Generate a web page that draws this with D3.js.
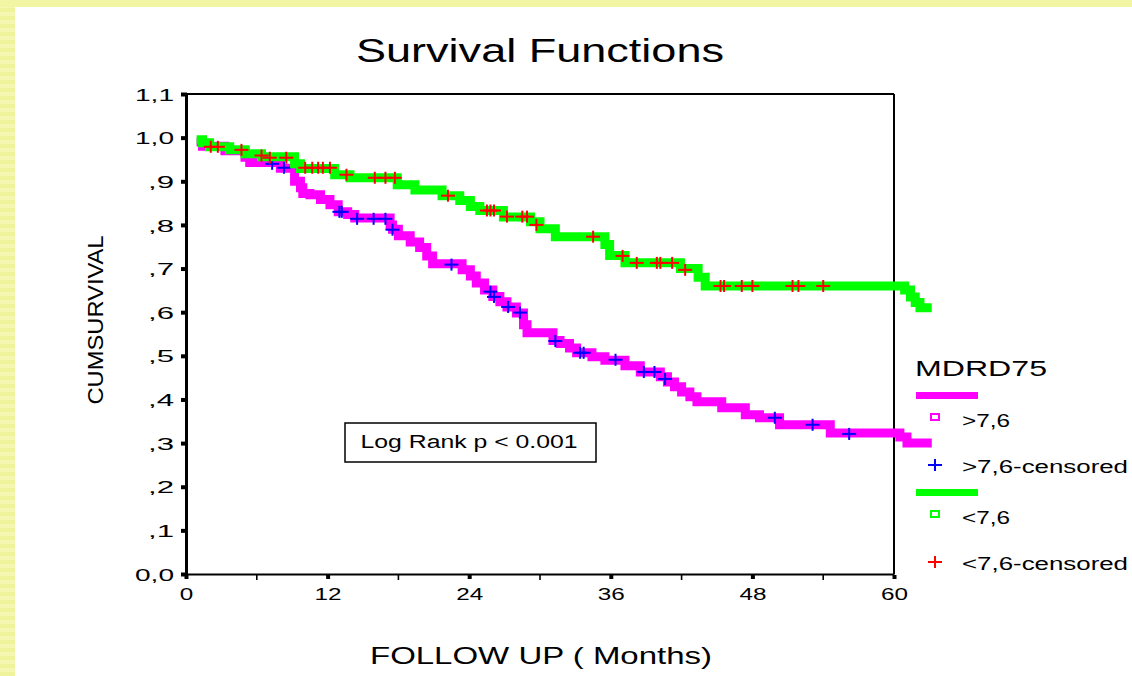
<!DOCTYPE html>
<html><head><meta charset="utf-8">
<script src="https://cdn.jsdelivr.net/npm/d3@7"></script>
<style>body{margin:0;background:#fff}svg{display:block}text{font-family:"Liberation Sans",Arial,sans-serif;fill:#000}</style>
</head><body>
<script>
// ---- data ----
const title = "Survival Functions";
const xLabel = "FOLLOW UP ( Months)";
const yLabel = "CUMSURVIVAL";
const legendTitle = "MDRD75";
const groupNames = [">7,6", "<7,6"];
const xTicks = [0, 12, 24, 36, 48, 60];
const xMinorTicks = [6, 18, 30, 42, 54];
const yTicks = [0, 0.1, 0.2, 0.3, 0.4, 0.5, 0.6, 0.7, 0.8, 0.9, 1.0, 1.1];
const yTickLabels = ["0,0", ",1", ",2", ",3", ",4", ",5", ",6", ",7", ",8", ",9", "1,0", "1,1"];
const annotation = "Log Rank p < 0.001";

const magentaTimes = [0.9, 1.4, 3.3, 5.0, 5.4, 8.0, 9.2, 9.7, 9.9, 10.5, 11.4, 12.2, 12.9, 13.7, 14.3, 17.3, 17.5, 18.0, 19.0, 19.8, 20.4, 20.9, 23.4, 24.1, 24.6, 25.3, 26.0, 26.6, 27.2, 28.0, 28.6, 28.9, 31.1, 31.7, 32.5, 33.1, 34.4, 35.5, 37.2, 38.5, 40.2, 40.8, 41.4, 42.0, 42.7, 43.3, 45.4, 47.4, 48.6, 50.3, 54.6, 60.5, 61.1, 63.2];
const magentaSurv = [0.99, 0.98, 0.97, 0.955, 0.943, 0.93, 0.90, 0.885, 0.872, 0.869, 0.858, 0.846, 0.83, 0.824, 0.816, 0.80, 0.79, 0.775, 0.761, 0.748, 0.729, 0.711, 0.697, 0.683, 0.667, 0.651, 0.636, 0.624, 0.612, 0.598, 0.571, 0.553, 0.535, 0.528, 0.518, 0.507, 0.498, 0.49, 0.477, 0.463, 0.452, 0.44, 0.429, 0.417, 0.406, 0.395, 0.381, 0.365, 0.358, 0.342, 0.323, 0.314, 0.30, 0.30];
const magentaCensTimes = [7.3, 8.3, 13.0, 13.2, 14.5, 15.9, 16.9, 17.5, 22.5, 25.8, 26.1, 27.3, 28.3, 31.3, 33.4, 33.7, 36.4, 38.8, 39.7, 40.6, 49.9, 53.1, 56.2];
const magentaCensSurv = [0.94, 0.931, 0.83, 0.83, 0.814, 0.814, 0.814, 0.789, 0.709, 0.647, 0.635, 0.612, 0.599, 0.534, 0.507, 0.507, 0.491, 0.463, 0.463, 0.447, 0.358, 0.342, 0.321];

const greenTimes = [0.9, 1.4, 2.0, 3.7, 5.0, 6.4, 9.2, 9.7, 12.6, 13.9, 17.9, 19.4, 21.7, 23.2, 24.1, 24.9, 26.9, 29.2, 30.0, 31.3, 35.5, 35.9, 37.2, 41.9, 43.4, 44.0, 60.9, 61.4, 61.8, 62.2, 63.2];
const greenSurv = [0.995, 0.988, 0.979, 0.972, 0.963, 0.956, 0.94, 0.929, 0.915, 0.908, 0.892, 0.88, 0.867, 0.856, 0.842, 0.833, 0.818, 0.807, 0.791, 0.773, 0.755, 0.73, 0.713, 0.70, 0.68, 0.66, 0.651, 0.635, 0.622, 0.61, 0.61];
const greenCensTimes = [2.1, 2.7, 4.7, 6.4, 7.1, 8.5, 10.1, 10.7, 11.2, 11.6, 12.2, 13.6, 16.0, 16.9, 17.7, 22.2, 25.5, 25.8, 26.1, 27.2, 28.5, 28.9, 29.7, 34.5, 37.0, 38.2, 39.9, 40.2, 41.2, 42.3, 45.3, 45.6, 47.1, 48.0, 51.4, 51.9, 54.0];
const greenCensSurv = [0.979, 0.979, 0.972, 0.959, 0.954, 0.954, 0.931, 0.931, 0.931, 0.931, 0.931, 0.915, 0.908, 0.908, 0.908, 0.867, 0.833, 0.833, 0.833, 0.819, 0.819, 0.819, 0.80, 0.773, 0.729, 0.713, 0.713, 0.713, 0.713, 0.697, 0.66, 0.66, 0.66, 0.66, 0.66, 0.66, 0.66];

// ---- drawing ----
const W = 1132, H = 676;
const svg = d3.select("body").append("svg").attr("width", W).attr("height", H);
svg.append("rect").attr("width", W).attr("height", H).attr("fill", "#fff");
// yellow striped border
const stripeRows = d3.range(0, H, 4);
svg.append("g").selectAll("rect").data(stripeRows).join("rect")
  .attr("x", 0).attr("y", d => d).attr("width", 15).attr("height", 4)
  .attr("fill", (d, i) => i % 2 ? "#f5f7b0" : "#eff39c");
svg.append("rect").attr("x", 0).attr("y", 0).attr("width", W).attr("height", 7).attr("fill", "#f2f5a4");

const x = d3.scaleLinear().domain([0, 60]).range([186, 894]);
const y = d3.scaleLinear().domain([0, 1.1]).range([574, 94]);

function txt(px, py, s, size, len, anchor) {
  const t = svg.append("text").attr("x", px).attr("y", py).attr("font-size", size)
    .attr("text-anchor", anchor || "start").text(s);
  if (len) t.attr("textLength", len).attr("lengthAdjust", "spacingAndGlyphs");
  return t;
}

// title and labels
txt(540, 62, title, 33, 368, "middle");
txt(541, 664, xLabel, 24, 342, "middle");
svg.append("text").attr("transform", "translate(103,320) rotate(-90)")
  .attr("font-size", 22).attr("text-anchor", "middle")
  .attr("textLength", 169).attr("lengthAdjust", "spacingAndGlyphs").text(yLabel);

// frame
const frame = svg.append("g").attr("fill", "none").attr("stroke", "#000");
frame.append("line").attr("x1", x(0)).attr("x2", x(60)).attr("y1", y(1.1)).attr("y2", y(1.1)).attr("stroke-width", 2);
frame.append("line").attr("x1", x(60)).attr("x2", x(60)).attr("y1", y(1.1)).attr("y2", y(0)).attr("stroke-width", 2);

// axes
const yAxisG = svg.append("g").attr("transform", `translate(${x(0)},0)`)
  .call(d3.axisLeft(y).tickValues(yTicks).tickFormat((d, i) => yTickLabels[i]).tickSize(0).tickPadding(12));
yAxisG.select(".domain").attr("stroke", "#000").attr("stroke-width", 3);
yAxisG.selectAll(".tick text").attr("font-size", 17).attr("font-family", '"Liberation Sans",Arial,sans-serif')
  .attr("textLength", (d, i) => yTickLabels[i].length * 13).attr("lengthAdjust", "spacingAndGlyphs")
  .attr("dy", "0.36em");
yAxisG.selectAll(".tick").append("rect").attr("x", -5).attr("y", -2).attr("width", 6).attr("height", 4).attr("fill", "#000");

const xAxisG = svg.append("g").attr("transform", `translate(0,${y(0)})`)
  .call(d3.axisBottom(x).tickValues(xTicks).tickFormat(d3.format("d")).tickSize(0).tickPadding(14));
xAxisG.select(".domain").attr("stroke", "#000").attr("stroke-width", 2);
xAxisG.selectAll(".tick text").attr("font-size", 17).attr("font-family", '"Liberation Sans",Arial,sans-serif')
  .attr("textLength", d => String(d).length * 13.5).attr("lengthAdjust", "spacingAndGlyphs");
xAxisG.selectAll(".tick").append("rect").attr("x", -2).attr("y", 1).attr("width", 4).attr("height", 4).attr("fill", "#000");
svg.append("g").selectAll("line").data(xMinorTicks).join("line")
  .attr("x1", d => x(d)).attr("x2", d => x(d)).attr("y1", y(0)).attr("y2", y(0) + 6)
  .attr("stroke", "#000").attr("stroke-width", 1.6);

// curves
const line = d3.line().x(d => x(d[0])).y(d => y(d[1])).curve(d3.curveStepAfter);
const magentaPts = magentaTimes.map((t, i) => [t, magentaSurv[i]]);
const greenPts = greenTimes.map((t, i) => [t, greenSurv[i]]);
svg.append("path").attr("d", line(magentaPts)).attr("fill", "none").attr("stroke", "#ff00ff")
  .attr("stroke-width", 9).attr("stroke-linejoin", "miter");
function plus(g, px, py, color) {
  g.append("line").attr("x1", px - 7).attr("x2", px + 7).attr("y1", py).attr("y2", py).attr("stroke", color).attr("stroke-width", 2);
  g.append("line").attr("x1", px).attr("x2", px).attr("y1", py - 6).attr("y2", py + 6).attr("stroke", color).attr("stroke-width", 2);
}
const blueG = svg.append("g");
magentaCensTimes.forEach((t, i) => plus(blueG, x(t), y(magentaCensSurv[i]), "#0000ff"));
svg.append("path").attr("d", line(greenPts)).attr("fill", "none").attr("stroke", "#00ff00")
  .attr("stroke-width", 9).attr("stroke-linejoin", "miter");
const redG = svg.append("g");
greenCensTimes.forEach((t, i) => plus(redG, x(t), y(greenCensSurv[i]), "#ff0000"));

// annotation box
svg.append("rect").attr("x", 345).attr("y", 423).attr("width", 251).attr("height", 39)
  .attr("fill", "#fff").attr("stroke", "#000").attr("stroke-width", 1.5);
txt(469, 448, annotation, 18, 217, "middle");

// legend
txt(915, 376, legendTitle, 22, 132);
const legColors = [["#ff00ff", "#0000ff"], ["#00ff00", "#ff0000"]];
groupNames.forEach((g, i) => {
  const oy = i * 97;
  svg.append("rect").attr("x", 916).attr("y", 392 + oy).attr("width", 62).attr("height", 7).attr("fill", legColors[i][0]);
  svg.append("rect").attr("x", 931).attr("y", 414 + oy).attr("width", 8).attr("height", 6)
    .attr("fill", "none").attr("stroke", legColors[i][0]).attr("stroke-width", 2);
  txt(962, 427 + oy, g, 18, 48);
  plus(svg, 935, 465 + oy, legColors[i][1]);
  txt(962, 473 + oy, g + "-censored", 18, 166);
});
</script>
</body></html>
